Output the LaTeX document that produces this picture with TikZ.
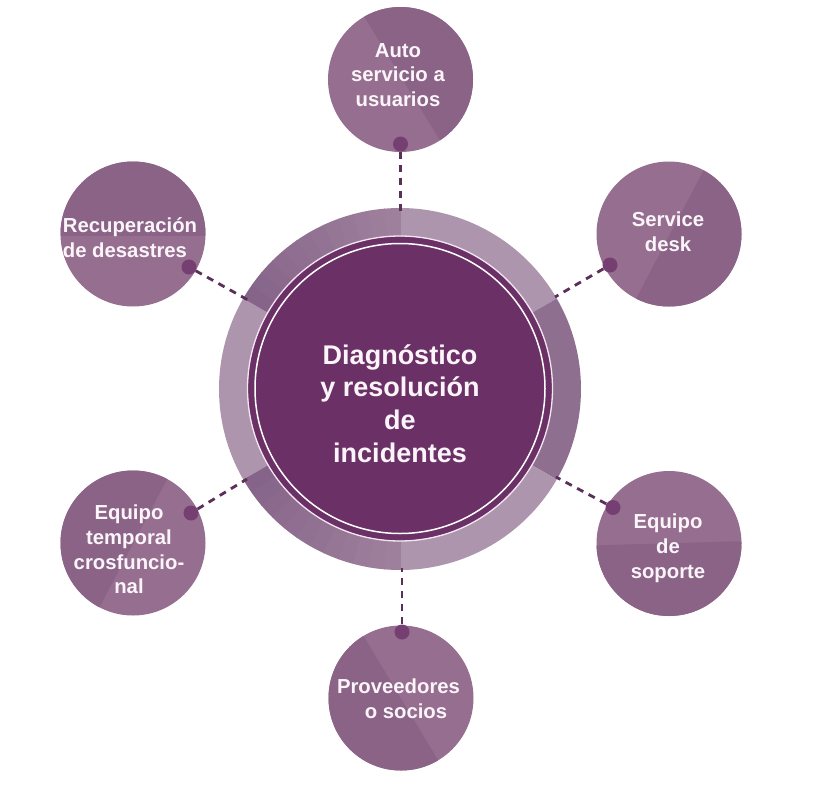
\documentclass[tikz,border=0pt]{standalone}
\usepackage{fontspec}
\setmainfont{Liberation Sans}
\definecolor{core}{HTML}{6B3166}
\definecolor{ringL}{HTML}{AD95AD}
\definecolor{ringD}{HTML}{8F6F90}
\definecolor{ringA}{HTML}{86648A}
\definecolor{ringB}{HTML}{9E809C}
\definecolor{satL}{HTML}{966E90}
\definecolor{satD}{HTML}{8A6387}
\definecolor{dotc}{HTML}{763F72}
\definecolor{dashc}{HTML}{5A2F58}
\definecolor{txt}{HTML}{FBF5FA}
\definecolor{paleline}{HTML}{F3E6F1}
\tikzset{
 x=1pt,y=-1pt,
 link/.style={dashc, line width=2.8pt, dash pattern=on 7pt off 6pt},
 sat/.style={circle, minimum size=145pt, inner sep=0pt, fill=satL},
 spot/.style={circle, minimum size=15pt, inner sep=0pt, fill=dotc},
 lab/.style={text=txt, align=center, font=\bfseries\fontsize{20.3}{24.8}\selectfont, inner sep=0pt},
 hub/.style={text=txt, align=center, font=\bfseries\fontsize{27}{32.7}\selectfont, inner sep=0pt},
}
\newcommand{\seg}[3]{\fill[#3] (400,389) ++(#1:181pt) arc[start angle=#1,end angle=#2,radius=181pt] -- (400,389) -- cycle;}
\begin{document}
\begin{tikzpicture}
\useasboundingbox (0,0) rectangle (828,801);
\fill[white] (0,0) rectangle (828,801);
\coordinate (hubc) at (400,388.5);
\node[sat] (s1) at (400.5,79.5) {};
\node[sat] (s2) at (669,234) {};
\node[sat] (s3) at (669,543.5) {};
\node[sat] (s4) at (401,698) {};
\node[sat] (s5) at (133,543) {};
\node[sat] (s6) at (133,234) {};
% darker wedges
\begin{scope}\clip (s1) circle[radius=72.5pt]; \fill[satD] (354,0) -- (452,160) -- (480,160) -- (480,0) -- cycle; \end{scope}
\begin{scope}\clip (s2) circle[radius=72.5pt]; \fill[satD] (717,145) -- (630,310) -- (750,310) -- (750,145) -- cycle; \end{scope}
\begin{scope}\clip (s3) circle[radius=72.5pt]; \fill[satD] (590,545.5) -- (750,541) -- (750,620) -- (590,620) -- cycle; \end{scope}
\begin{scope}\clip (s4) circle[radius=72.5pt]; \fill[satD] (354,620) -- (450,780) -- (320,780) -- (320,620) -- cycle; \end{scope}
\begin{scope}\clip (s5) circle[radius=72.5pt]; \fill[satD] (172,470) -- (90,625) -- (50,625) -- (50,470) -- cycle; \end{scope}
\begin{scope}\clip (s6) circle[radius=72.5pt]; \fill[satD] (50,150) -- (215,150) -- (215,236) -- (50,236) -- cycle; \end{scope}
% ring
\seg{30}{90}{ringL}
\seg{-30}{30}{ringD}
\seg{-90}{-30}{ringL}
\seg{150}{210}{ringL}
\foreach \i in {0,...,11}{
  \pgfmathsetmacro{\pc}{\i*100/11}
  \pgfmathsetmacro{\aA}{-150+\i*5}
  \pgfmathsetmacro{\aB}{\aA+5.3}
  \seg{\aA}{\aB}{ringB!\pc!ringA}
  \pgfmathsetmacro{\cA}{150-\i*5}
  \pgfmathsetmacro{\cB}{\cA-5.3}
  \seg{\cA}{\cB}{ringB!\pc!ringA}
}
\node[circle, minimum size=304pt, inner sep=0pt, fill=core] (hub) at (hubc) {};
\draw[paleline, line width=1.3pt] (hubc) circle[radius=152.5pt];
\draw[white, line width=1.5pt] (hubc) circle[radius=145pt];
% dots
\node[spot] (d1) at (400.5,144) {};
\node[spot] (d2) at (610,265) {};
\node[spot] (d3) at (613,507.5) {};
\node[spot] (d4) at (402,632) {};
\node[spot] (d5) at (191,513) {};
\node[spot] (d6) at (189,267) {};
\coordinate (e1) at (400.5,211);
\coordinate (e2) at (555,297);
\coordinate (e3) at (556,477);
\coordinate (e4) at (402,568);
\coordinate (e5) at (247,479);
\coordinate (e6) at (248,300);
\draw[link] (d1) -- (e1);
\draw[link] (d2) -- (e2);
\draw[link] (d3) -- (e3);
\draw[link] (d4) -- (e4);
\draw[link] (d5) -- (e5);
\draw[link] (d6) -- (e6);
% text
\node[hub] at (400,403.5) {Diagnóstico\\y resolución\\de\\incidentes};
\node[lab] at (398,75) {Auto\\servicio a\\usuarios};
\node[lab] at (668,231.5) {Service\\desk};
\node[lab] at (668,548.5) {Equipo\\de\\soporte};
\node[lab] at (398.5,699) {Proveedores\\\hspace*{15pt}o socios};
\node[lab] at (130,238) {Recuperación\\de desastres\hspace*{10pt}};
\node[lab] at (129,549.5) {Equipo\\temporal\\crosfuncio-\\nal};
\end{tikzpicture}
\end{document}
